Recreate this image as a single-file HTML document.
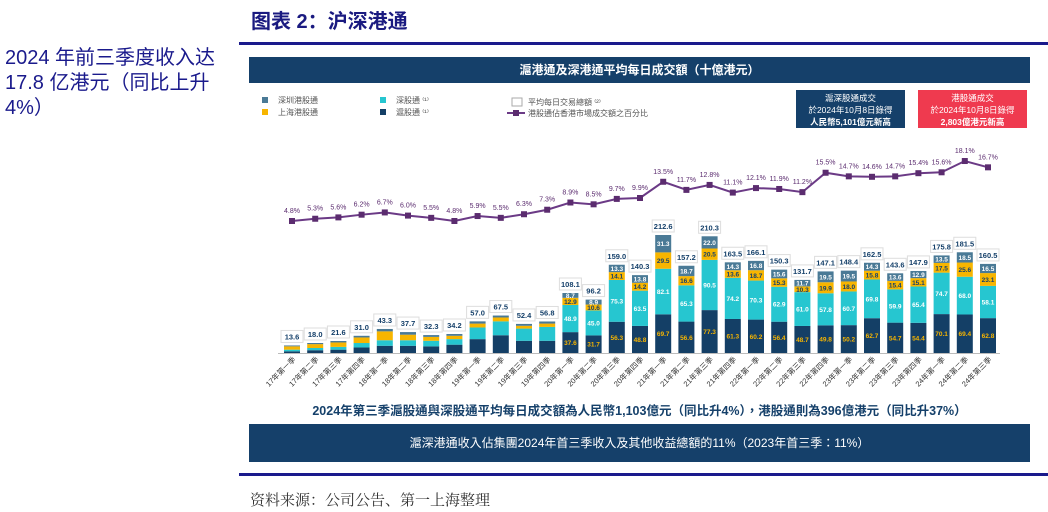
<!DOCTYPE html>
<html><head><meta charset="utf-8"><style>
body{margin:0;width:1048px;height:512px;background:#fff;position:relative;overflow:hidden;font-family:"Liberation Sans","Noto Sans CJK SC",sans-serif}
.abs{position:absolute}
</style></head><body>
<div class="abs" style="left:5px;top:46px;width:230px;color:#1a1a8c;font-size:20px;line-height:25px">2024 年前三季度收入达 17.8 亿港元（同比上升 4%）</div>
<div class="abs" style="left:251px;top:5px;color:#1a1a80;font-size:20px;font-weight:bold">图表 2：沪深港通</div>
<div class="abs" style="left:239px;top:42px;width:809px;height:3px;background:#1a1a8c"></div>
<div class="abs" style="left:249px;top:57px;width:781px;height:26px;background:#15406a;color:#fff;font-size:12px;font-weight:bold;text-align:center;line-height:26px;font-family:'Liberation Sans','Noto Sans CJK TC',sans-serif">滬港通及深港通平均每日成交額（十億港元）</div>
<div class="abs" style="left:796px;top:90px;width:109px;height:38px;background:#15406a;color:#fff;font-size:8.5px;text-align:center;line-height:12px;padding-top:2px;box-sizing:border-box;font-family:'Liberation Sans','Noto Sans CJK TC',sans-serif">滬深股通成交<br>於2024年10月8日錄得<br><b>人民幣5,101億元新高</b></div>
<div class="abs" style="left:918px;top:90px;width:109px;height:38px;background:#ef3a4f;color:#fff;font-size:8.5px;text-align:center;line-height:12px;padding-top:2px;box-sizing:border-box;font-family:'Liberation Sans','Noto Sans CJK TC',sans-serif">港股通成交<br>於2024年10月8日錄得<br><b>2,803億港元新高</b></div>
<svg class="abs" style="left:0;top:0" width="1048" height="512" id="chart" font-family="Liberation Sans, Noto Sans CJK TC, sans-serif"></svg>
<div class="abs" style="left:249px;top:400px;width:781px;text-align:center;color:#15406a;font-size:12.5px;font-weight:bold;font-family:'Liberation Sans','Noto Sans CJK TC',sans-serif">2024年第三季滬股通與深股通平均每日成交額為人民幣1,103億元（同比升4%），港股通則為396億港元（同比升37%）</div>
<div class="abs" style="left:249px;top:424px;width:781px;height:38px;background:#15406a;color:#fff;font-size:12px;text-align:center;line-height:38px;font-family:'Liberation Sans','Noto Sans CJK TC',sans-serif">滬深港通收入佔集團2024年首三季收入及其他收益總額的11%（2023年首三季：11%）</div>
<div class="abs" style="left:239px;top:473px;width:809px;height:3px;background:#1a1a8c"></div>
<div class="abs" style="left:250px;top:489px;color:#333;font-size:15px;font-family:'Liberation Serif','Noto Serif CJK SC',serif">资料来源：公司公告、第一上海整理</div>
<script>
const categories=["17年第一季","17年第二季","17年第三季","17年第四季","18年第一季","18年第二季","18年第三季","18年第四季","19年第一季","19年第二季","19年第三季","19年第四季","20年第一季","20年第二季","20年第三季","20年第四季","21年第一季","21年第二季","21年第三季","21年第四季","22年第一季","22年第二季","22年第三季","22年第四季","23年第一季","23年第二季","23年第三季","23年第四季","24年第一季","24年第二季","24年第三季"];
const shConnect=[3,5,6,10,13,13,12,15,25,32,22,22,37.6,31.7,56.3,48.8,69.7,56.6,77.3,61.3,60.2,56.4,48.7,49.8,50.2,62.7,54.7,54.4,70.1,69.4,62.8];
const szConnect=[3,4,5,8,10,10,10,10,21,25,22,25,48.9,45.0,75.3,63.5,82.1,65.3,90.5,74.2,70.3,62.9,61.0,57.8,60.7,69.8,59.9,65.4,74.7,68.0,58.1];
const shSouth=[6,7,8,10,16,10,7,6,7,7,5,6,12.9,10.6,14.1,14.2,29.5,16.6,20.5,13.6,18.7,15.3,10.3,19.9,18.0,15.8,15.4,15.1,17.5,25.6,23.1];
const szSouth=[1.6,2,2.6,3,4.3,4.7,3.3,3.2,4,3.5,3.4,3.8,8.7,8.9,13.3,13.8,31.3,18.7,22.0,14.3,16.8,15.6,11.7,19.5,19.5,14.3,13.6,12.9,13.5,18.5,16.5];
const totals=[13.6,18.0,21.6,31.0,43.3,37.7,32.3,34.2,57.0,67.5,52.4,56.8,108.1,96.2,159.0,140.3,212.6,157.2,210.3,163.5,166.1,150.3,131.7,147.1,148.4,162.5,143.6,147.9,175.8,181.5,160.5];
const shares=[4.8,5.3,5.6,6.2,6.7,6.0,5.5,4.8,5.9,5.5,6.3,7.3,8.9,8.5,9.7,9.9,13.5,11.7,12.8,11.1,12.1,11.9,11.2,15.5,14.7,14.6,14.7,15.4,15.6,18.1,16.7];

const svg=document.getElementById('chart');const NS='http://www.w3.org/2000/svg';
function mk(t,a,p){const e=document.createElementNS(NS,t);for(const k in a)e.setAttribute(k,a[k]);(p||svg).appendChild(e);return e;}
const x=i=>292+i*23.2;
const y=v=>353-v*0.555;
const ly=p=>221-(p-4.8)*4.51;
const bw=16;
// legend
const leg=[["#4a7a96","深圳港股通",262,101],["#f7b500","上海港股通",262,113],["#26c6d0","深股通 ⁽¹⁾",380,101],["#143f66","滬股通 ⁽¹⁾",380,113]];
leg.forEach(l=>{const g=mk('g',{});


mk('rect',{x:l[2],y:l[3]-4,width:6,height:6,fill:l[0]},g);const t=mk('text',{x:l[2]+16,y:l[3]+2,'font-size':8,fill:'#555'},g);t.textContent=l[1];});
const lg1=mk('g',{});


mk('rect',{x:512,y:98,width:10,height:8,fill:'#fff',stroke:'#aaa'},lg1);
const lt1=mk('text',{x:528,y:105,'font-size':8,fill:'#555'},lg1);lt1.textContent='平均每日交易總額 ⁽²⁾';
const lg2=mk('g',{});


mk('line',{x1:507,y1:113,x2:525,y2:113,stroke:'#6b3a86','stroke-width':2},lg2);
mk('rect',{x:513,y:110,width:6,height:6,fill:'#5b2c6f'},lg2);
const lt2=mk('text',{x:528,y:116,'font-size':8,fill:'#555'},lg2);lt2.textContent='港股通佔香港市場成交額之百分比';
// axis
const ax=mk('line',{x1:278,y1:353.5,x2:1000,y2:353.5,stroke:'#bbb','stroke-width':1});


categories.forEach((c,i)=>{
 const series=[[shConnect,'#143f66','#f7b500'],[szConnect,'#26c6d0','#fff'],[shSouth,'#f7b500','#15406a'],[szSouth,'#4a7a96','#fff']];
 let base=0;
 series.forEach((s,k)=>{const v=s[0][i];const r=mk('rect',{x:x(i)-bw/2,y:y(base+v),width:bw,height:v*0.555,fill:s[1]});
 
 
 if(i>=12){const t=mk('text',{x:x(i),y:y(base+v/2)+2.5,'font-size':6.5,'font-weight':'bold','text-anchor':'middle',fill:s[2]});t.textContent=v.toFixed(1);}
 base+=v;});
 const ty=y(totals[i])-15;
 const b=mk('rect',{x:x(i)-11,y:ty,width:22,height:12,fill:'#fff',stroke:'#ddd'});
 
 
 const tt=mk('text',{x:x(i),y:ty+9,'font-size':7.5,'font-weight':'bold','text-anchor':'middle',fill:'#15406a'});tt.textContent=totals[i].toFixed(1);
 const cl=mk('text',{transform:`translate(${x(i)+4},${360}) rotate(-45)`,'font-size':7.5,'text-anchor':'end',fill:'#333'});
 
 
 cl.textContent=c;
});
const pts=shares.map((p,i)=>x(i)+','+ly(p)).join(' ');
const pl=mk('polyline',{points:pts,fill:'none',stroke:'#6b3a86','stroke-width':2});


shares.forEach((p,i)=>{const m=mk('rect',{x:x(i)-3,y:ly(p)-3,width:6,height:6,fill:'#5b2c6f'});


const t=mk('text',{x:x(i),y:ly(p)-8,'font-size':7,'text-anchor':'middle',fill:'#5b2c6f'});t.textContent=p.toFixed(1)+'%';});
</script>
</body></html>
